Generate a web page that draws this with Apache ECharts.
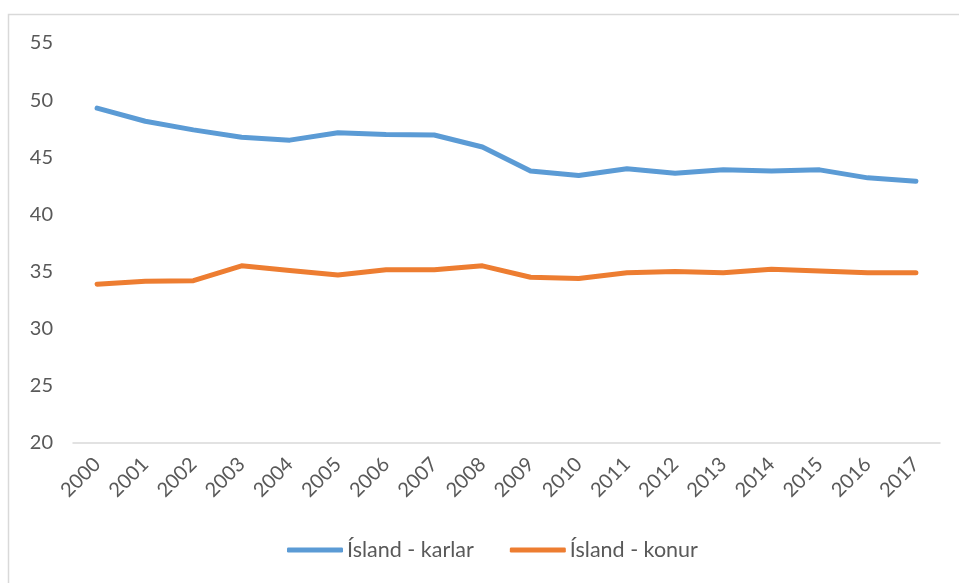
<!DOCTYPE html>
<html>
<head>
<meta charset="utf-8">
<script src="https://cdn.jsdelivr.net/npm/echarts@6/dist/echarts.min.js"></script>
<style>
	html, body { margin: 0; padding: 0; background: #fff; }
	#chart { width: 959px; height: 583px; }
</style>
</head>
<body>
<div id="chart"></div>
<script>
	var years = ['2000', '2001', '2002', '2003', '2004', '2005', '2006', '2007', '2008',
		'2009', '2010', '2011', '2012', '2013', '2014', '2015', '2016', '2017'];
	//Ísland - karlar
	var karlar = [49.3, 48.15, 47.4, 46.75, 46.5, 47.15, 47.0, 46.95, 45.9,
		43.8, 43.4, 44.0, 43.6, 43.9, 43.8, 43.9, 43.2, 42.9];
	//Ísland - konur
	var konur = [33.9, 34.15, 34.2, 35.5, 35.1, 34.7, 35.15, 35.15, 35.5,
		34.5, 34.4, 34.9, 35.0, 34.9, 35.2, 35.05, 34.9, 34.9];
	var yTicks = { min: 20, max: 55, step: 5 };

	var textColor = '#595959',
		fontFamily = 'Lato, "Open Sans", sans-serif';

	var chart = echarts.init(document.getElementById('chart'), null, { renderer: 'canvas' });
	var option = {
		backgroundColor: '#fff',
		animation: false,
		graphic: [{
			type: 'rect',
			shape: { x: 8.5, y: 14.5, width: 1000, height: 1000 },
			style: { fill: 'none', stroke: '#d9d9d9', lineWidth: 1.5 },
			silent: true
		}],
		grid: {
			left: 73,
			right: 19,
			top: 43,
			bottom: 140
		},
		legend: {
			bottom: 17,
			left: 282,
			itemWidth: 56,
			itemHeight: 5,
			itemGap: 36,
			icon: 'roundRect',
			textStyle: { color: textColor, fontSize: 21.5, fontFamily: fontFamily, padding: [0, 0, 0, -1] },
			data: ['Ísland - karlar', 'Ísland - konur']
		},
		xAxis: {
			type: 'category',
			data: years,
			boundaryGap: true,
			axisLine: { lineStyle: { color: '#d9d9d9', width: 1.5 } },
			axisTick: { show: false },
			axisLabel: {
				rotate: 45,
				color: textColor,
				fontSize: 20,
				fontFamily: fontFamily,
				margin: 18,
				interval: 0
			}
		},
		yAxis: {
			type: 'value',
			min: yTicks.min,
			max: yTicks.max,
			interval: yTicks.step,
			axisLine: { show: false },
			axisTick: { show: false },
			splitLine: { show: false },
			axisLabel: {
				color: textColor,
				fontSize: 20,
				fontFamily: fontFamily,
				margin: 20
			}
		},
		series: [{
			name: 'Ísland - karlar',
			type: 'line',
			data: karlar,
			symbol: 'none',
			lineStyle: { color: '#5B9BD5', width: 5, cap: 'round', join: 'round' },
			itemStyle: { color: '#5B9BD5' }
		}, {
			name: 'Ísland - konur',
			type: 'line',
			data: konur,
			symbol: 'none',
			lineStyle: { color: '#ED7D31', width: 5, cap: 'round', join: 'round' },
			itemStyle: { color: '#ED7D31' }
		}]
	};
	chart.setOption(option);
</script>
</body>
</html>
